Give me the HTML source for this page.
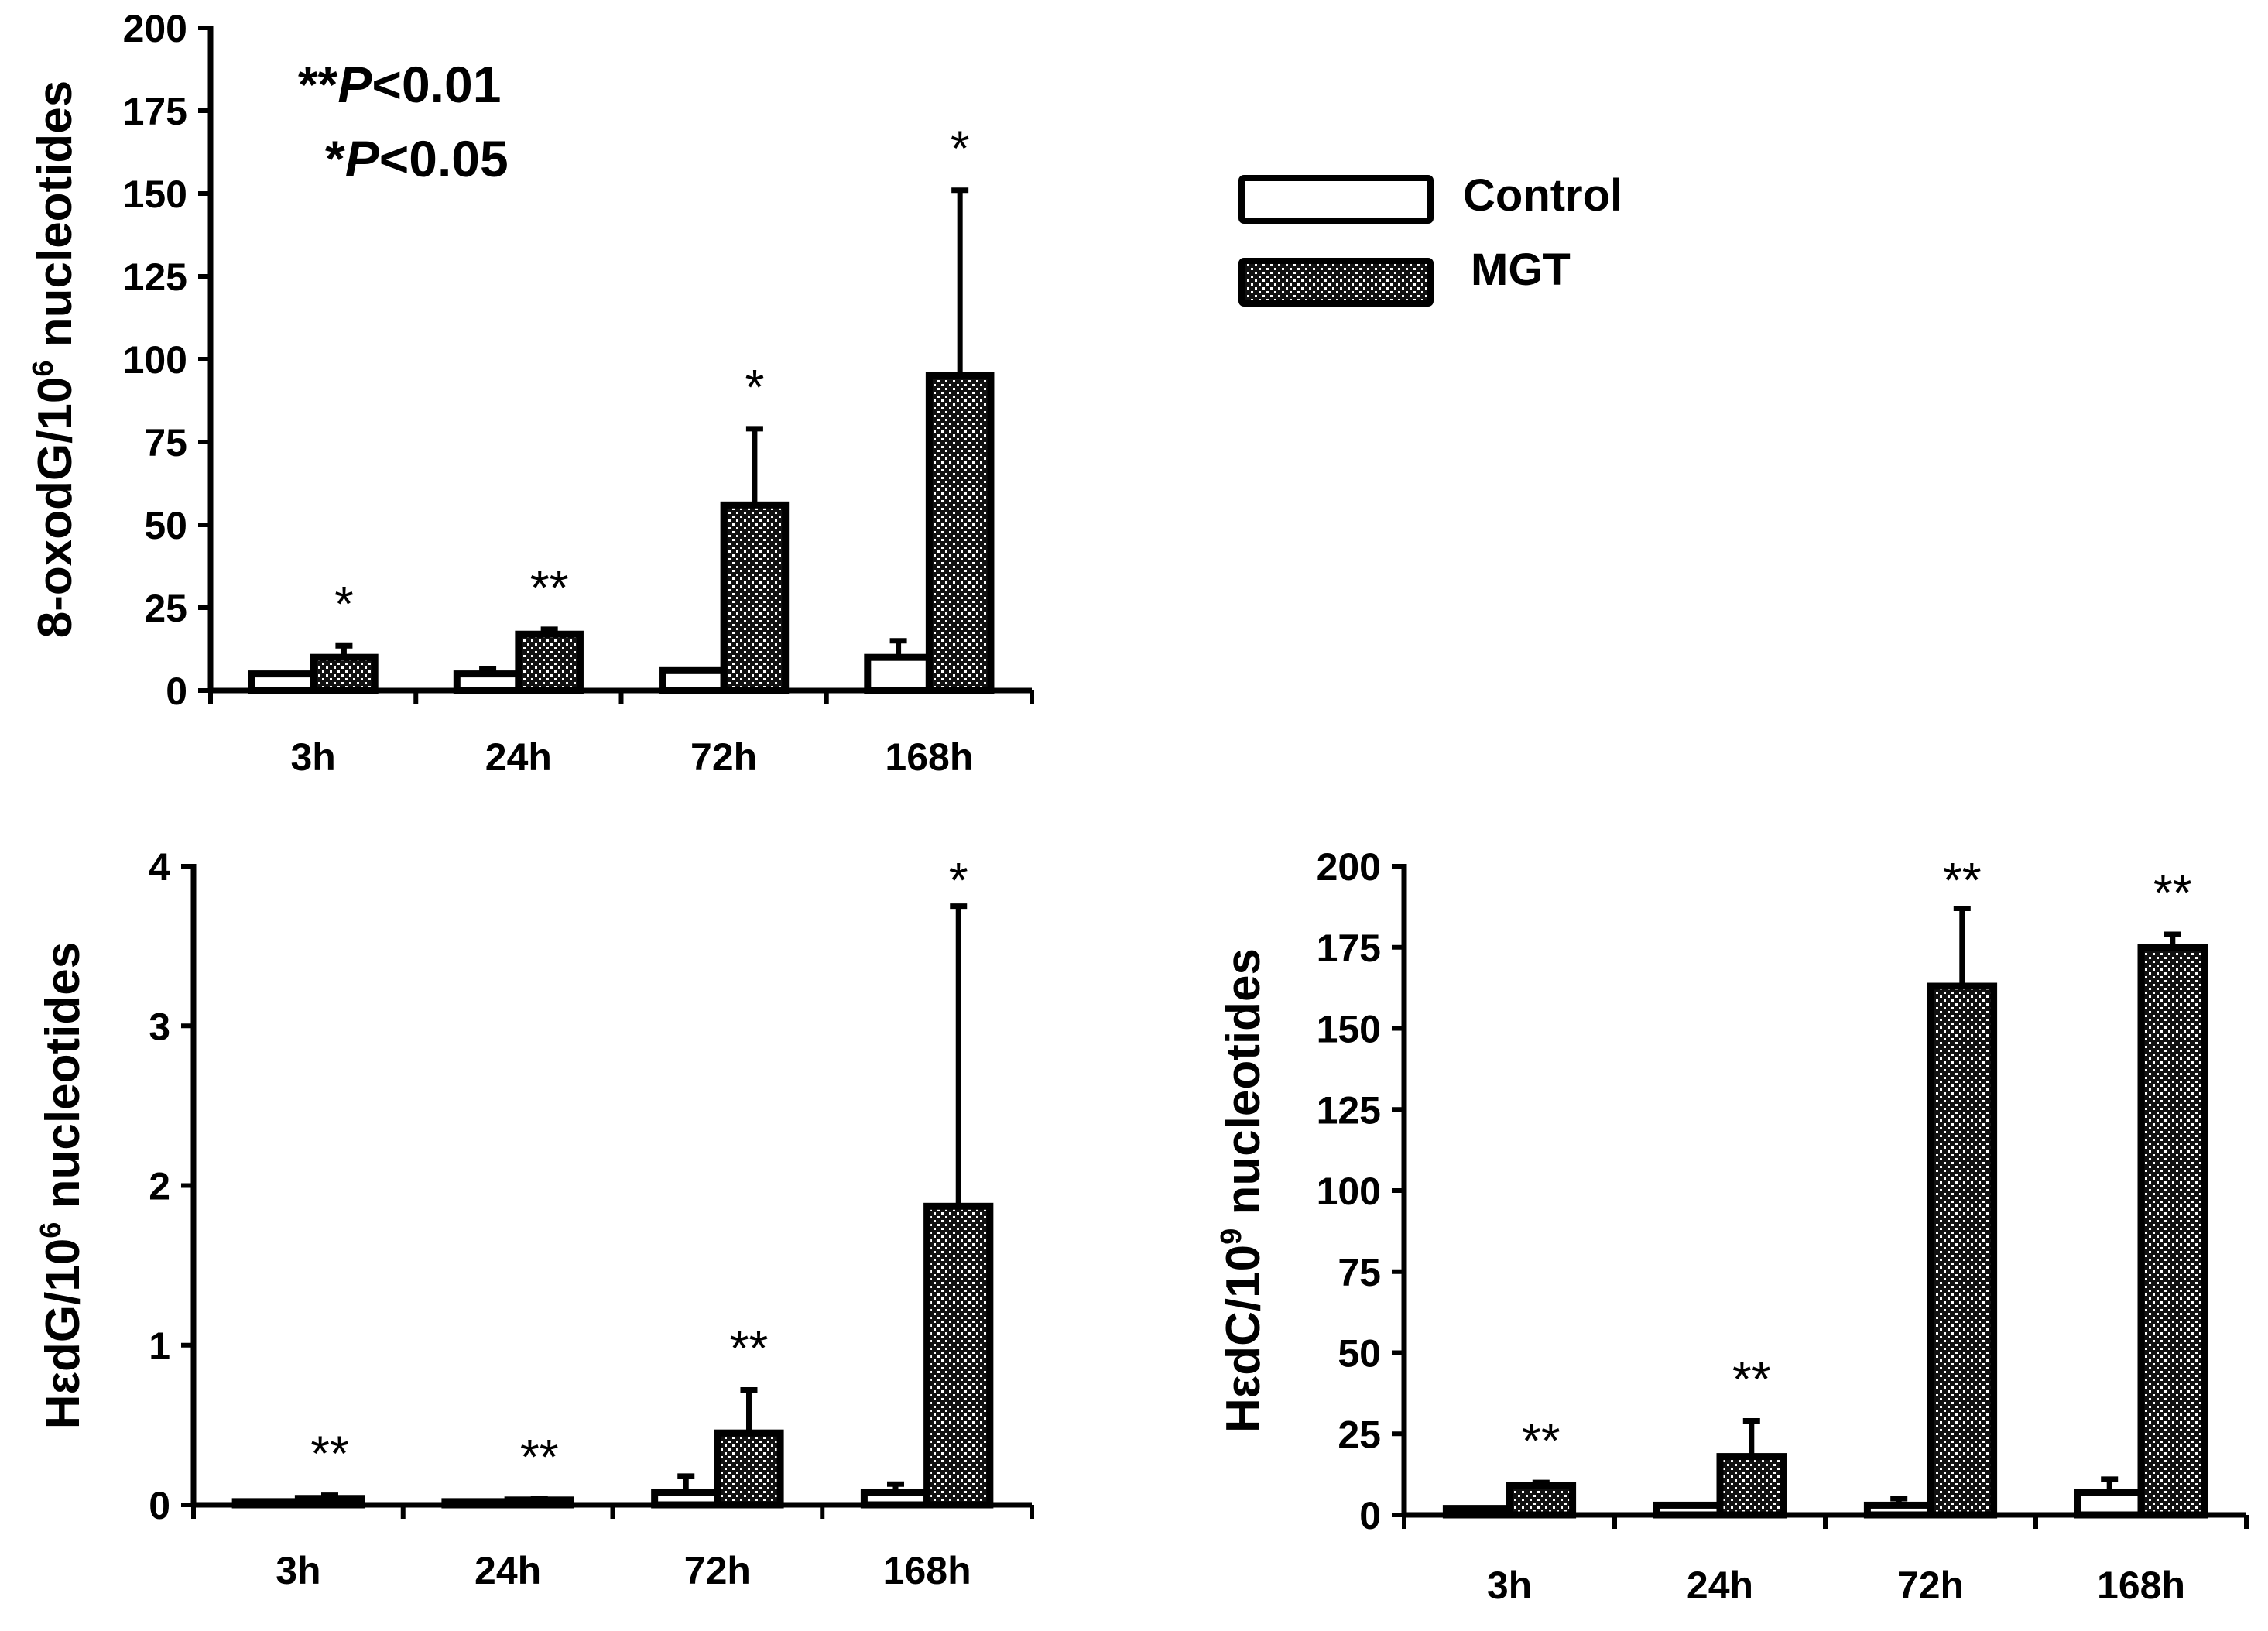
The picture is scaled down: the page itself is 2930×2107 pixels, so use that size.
<!DOCTYPE html>
<html><head><meta charset="utf-8"><style>
html,body{margin:0;padding:0;background:#fff;}
svg{display:block;}
text{font-family:"Liberation Sans",Arial,sans-serif;font-weight:bold;fill:#000;}
</style></head><body>
<svg id="fig" width="2930" height="2107" viewBox="0 0 2930 2107">
<defs>
<pattern id="dots" width="10" height="10" patternUnits="userSpaceOnUse">
<rect width="10" height="10" fill="#111"/>
<rect x="1" y="1" width="3" height="3" fill="#fff"/>
<rect x="6" y="6" width="3" height="3" fill="#fff"/>
</pattern>
</defs>
<g>
<rect x="1604" y="230" width="244" height="55" fill="#fff" stroke="#000" stroke-width="8" rx="3"/>
<text x="1890" y="272" font-size="58">Control</text>
<rect x="1604" y="337" width="244" height="55" fill="url(#dots)" stroke="#000" stroke-width="8" rx="3"/>
<text x="1900" y="368" font-size="58">MGT</text>
</g>
<g>
<text x="385" y="132" font-size="66">**<tspan font-style="italic">P</tspan>&lt;0.01</text>
<text x="420" y="228" font-size="66">*<tspan font-style="italic">P</tspan>&lt;0.05</text>
</g>
</svg>
<script>
const categories = ["3h","24h","72h","168h"];
// Chart A: 8-oxodG
const aControl = [5,5,6,10];
const aControlErr = [0,1.5,0,5];
const aMGT = [10,17,56,95];
const aMGTErr = [3.5,1.5,23,56];
const aStars = ["*","**","*","*"];
const aTicks = [0,25,50,75,100,125,150,175,200];
// Chart B: HedG
const bControl = [0.02,0.02,0.08,0.08];
const bControlErr = [0,0,0.1,0.05];
const bMGT = [0.04,0.03,0.45,1.87];
const bMGTErr = [0.02,0.01,0.27,1.88];
const bStars = ["**","**","**","*"];
const bTicks = [0,1,2,3,4];
// Chart C: HedC
const cControl = [2,3,3,7];
const cControlErr = [0,0,2,4];
const cMGT = [9,18,163,175];
const cMGTErr = [1,11,24,4];
const cStars = ["**","**","**","**"];
const cTicks = [0,25,50,75,100,125,150,175,200];

const NS="http://www.w3.org/2000/svg";
const svg=document.getElementById('fig');
function mk(tag,attrs,parent){const e=document.createElementNS(NS,tag);for(const k in attrs)e.setAttribute(k,attrs[k]);(parent||svg).appendChild(e);return e;}

function chart(id,cfg,ctrl,ctrlErr,mgt,mgtErr,stars,ticks){
  const g=mk('g',{});
  
  
  const max=ticks[ticks.length-1];
  const y=v=>cfg.y0-(v/max)*(cfg.y0-cfg.yTop);
  const gw=(cfg.xEnd-cfg.x0)/categories.length;
  const bw=gw*0.3;
  categories.forEach((c,i)=>{
    const gx=cfg.x0+i*gw;
    const cx=gx+gw*0.2, mx=cx+bw;
    const series=[[ctrl[i],ctrlErr[i],cx,'#fff','control'],[mgt[i],mgtErr[i],mx,'url(#dots)','mgt']];
    series.forEach(([v,e,bx,fill,nm])=>{
      if(e>0){
        const l=mk('line',{x1:bx+bw/2,x2:bx+bw/2,y1:y(v),y2:y(v+e),stroke:'#000','stroke-width':7},g);
        
        
        const cap=mk('line',{x1:bx+bw/2-11,x2:bx+bw/2+11,y1:y(v+e),y2:y(v+e),stroke:'#000','stroke-width':7},g);
        
        
      }
      const r=mk('rect',{x:bx,y:y(v),width:bw,height:Math.max(cfg.y0-y(v),0.5),fill:fill,stroke:'#000','stroke-width':9},g);
      
      
    });
    const top=y(mgt[i]+mgtErr[i]);
    const st=mk('text',{x:mx+bw/2,y:Math.max(top-32,cfg.yTop+40),'font-size':64,'text-anchor':'middle',style:'font-weight:normal'},g);
    st.textContent=stars[i];
    
    
    const lb=mk('text',{x:gx+gw/2,y:cfg.labelY,'font-size':50,'text-anchor':'middle'},g);
    lb.textContent=c;
    
    
  });
  const ya=mk('line',{x1:cfg.x0,x2:cfg.x0,y1:cfg.yTop-3,y2:cfg.y0+3,stroke:'#000','stroke-width':7},g);
  
  
  const xa=mk('line',{x1:cfg.x0,x2:cfg.xEnd,y1:cfg.y0,y2:cfg.y0,stroke:'#000','stroke-width':7},g);
  
  
  for(let i=0;i<=categories.length;i++){
    const xx=cfg.x0+i*gw;
    const t=mk('line',{x1:xx,x2:xx,y1:cfg.y0,y2:cfg.y0+18,stroke:'#000','stroke-width':6},g);
    
    
  }
  ticks.forEach(v=>{
    const t=mk('line',{x1:cfg.x0-16,x2:cfg.x0,y1:y(v),y2:y(v),stroke:'#000','stroke-width':6},g);
    
    
    const tl=mk('text',{x:cfg.x0-30,y:y(v)+18,'font-size':50,'text-anchor':'end'},g);
    tl.textContent=v;
    
    
  });
  const ty=(cfg.yTop+cfg.y0)/2;
  const tt=mk('text',{x:cfg.titleX,y:ty,'font-size':62,'text-anchor':'middle',transform:`rotate(-90 ${cfg.titleX} ${ty})`},g);
  tt.innerHTML=cfg.title;
  
  
}
chart('chart-8-oxodg',{x0:272,xEnd:1333,yTop:36,y0:892,labelY:995,titleX:92,title:'8-oxodG/10<tspan font-size="38" dy="-24">6</tspan><tspan dy="24"> nucleotides</tspan>'},aControl,aControlErr,aMGT,aMGTErr,aStars,aTicks);
chart('chart-hedg',{x0:250,xEnd:1333,yTop:1119,y0:1944,labelY:2046,titleX:102,title:'HεdG/10<tspan font-size="38" dy="-24">6</tspan><tspan dy="24"> nucleotides</tspan>'},bControl,bControlErr,bMGT,bMGTErr,bStars,bTicks);
chart('chart-hedc',{x0:1814,xEnd:2902,yTop:1119,y0:1957,labelY:2065,titleX:1627,title:'HεdC/10<tspan font-size="38" dy="-24">9</tspan><tspan dy="24"> nucleotides</tspan>'},cControl,cControlErr,cMGT,cMGTErr,cStars,cTicks);
</script>
</body></html>
